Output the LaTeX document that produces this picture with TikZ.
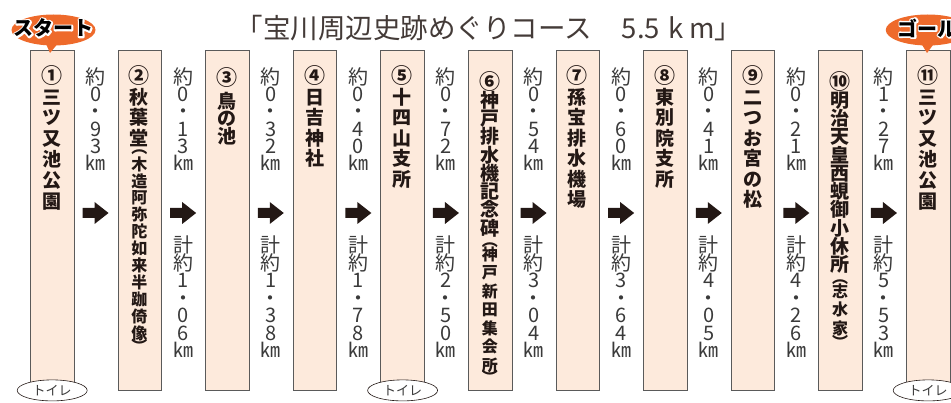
\documentclass[tikz,border=0pt]{standalone}
\usepackage{fontspec}
\newfontfamily\jp{Noto Sans CJK JP}
\usetikzlibrary{shapes.geometric,calc}
\definecolor{boxfill}{HTML}{FDEADC}
\definecolor{boxline}{HTML}{5A5A5A}
\definecolor{ink}{HTML}{231815}
\definecolor{orng}{HTML}{EE6A2B}
\definecolor{disttxt}{HTML}{3A3A3A}
\newcommand\vcol[6]{\foreach \c [count=\k from 0] in {#6} \node[#4] (#5\k) at (#1,#2+\k*#3) {\c};}
\newcommand\outlinetext[1]{\special{pdf:literal direct 1 Tr 3.2 w 1 J 1 j 1 1 1 RG}#1\special{pdf:literal direct 0 Tr 0 G}}
\begin{document}
\begin{tikzpicture}[x=1pt,y=-1pt,
 stopbox/.style={draw=boxline, line width=0.9pt, fill=boxfill, minimum width=43.5pt, minimum height=340pt, inner sep=0, anchor=north west},
 ch/.style={inner sep=0, text height=15.2pt, text depth=0.8pt, font=\jp\bfseries\fontsize{19}{19}\selectfont, text=ink},
 cnum/.style={inner sep=0, text height=14.5pt, text depth=-0.5pt, font=\jp\bfseries\fontsize{21}{21}\selectfont, text=ink},
 sm/.style={inner sep=0, text height=13.1pt, text depth=0.9pt, font=\jp\bfseries\fontsize{16}{16}\selectfont, text=ink},
 smp/.style={inner sep=0, font=\jp\bfseries\fontsize{16}{16}\selectfont, text=ink},
 dist/.style={inner sep=0, text height=15.2pt, text depth=0pt, font=\jp\fontsize{20}{20}\selectfont, text=disttxt},
 toilet/.style={ellipse, draw=ink, line width=0.6pt, fill=white, minimum width=70pt, minimum height=21pt, inner sep=0, text=disttxt, font=\jp\fontsize{13}{13}\selectfont},
 badge/.style={ellipse, fill=orng, minimum width=84pt, minimum height=31pt, inner sep=0},
 badgetxt/.style={inner sep=0, font=\jp\bfseries\fontsize{20}{20}\selectfont}]
\useasboundingbox (0,0) rectangle (951,403);
\clip (0,0) rectangle (951,403);
% title
\node[inner sep=0, font=\jp\fontsize{27.5}{27.5}\selectfont, text=ink!85] (title) at (489,28) {「宝川周辺史跡めぐりコース\hspace{30pt}5.5\hspace{8pt}k\hspace{6pt}m」};
% boxes
\foreach \i in {1,...,11} {
  \pgfmathsetmacro\L{30+87.6*(\i-1)}
  \node[stopbox] (box\i) at (\L,50) {};
}
% badges
\node[badge] (start) at (53.5,30) {};
\fill[orng] (start.south) ++(-8,-3) -- (50,53) -- ($(start.south)+(5,-3)$) -- cycle;
\node[badgetxt, text=white] (startw) at ($(start)+(0,-2)$) {\outlinetext{スタート}};
\node[badgetxt, text=black] (startt) at ($(start)+(0,-2)$) {スタート};
\node[badge] (goal) at (927.75,30) {};
\fill[orng] (goal.south) ++(-7,-3) -- (927,53) -- ($(goal.south)+(7,-3)$) -- cycle;
\node[badgetxt, text=white] (goalw) at ($(goal)+(0,-2)$) {\outlinetext{ゴール}};
\node[badgetxt, text=black] (goalt) at ($(goal)+(0,-2)$) {ゴール};
% box texts
\node[cnum] (n1) at (51.75,76) {①}; \vcol{51.75}{97}{20.8}{ch}{a}{三,ツ,又,池,公,園}
\node[cnum] (n2) at (139.35,76) {②}; \vcol{139.35}{97}{20.5}{ch}{b}{秋,葉,堂}
\node[smp] (p2a) at (139.35,152) {︵}; \vcol{139.35}{164}{16.95}{sm}{bs}{木,造,阿,弥,陀,如,来,半,跏,倚,像}
\node[smp] (p2b) at (139.35,346) {︶};
\node[cnum] (n3) at (226.95,78) {③}; \vcol{226.95}{101}{17.5}{ch}{c}{鳥,の,池}
\node[cnum] (n4) at (314.55,76) {④}; \vcol{314.55}{97}{20.5}{ch}{d}{日,吉,神,社}
\node[cnum] (n5) at (402.15,76) {⑤}; \vcol{402.15}{97}{20.5}{ch}{e}{十,四,山,支,所}
\node[cnum] (n6) at (489.75,82) {⑥}; \vcol{489.75}{100}{18.3}{ch}{f}{神,戸,排,水,機,記,念,碑}
\node[smp] (p6a) at (489.75,245) {︵}; \vcol{489.75}{254}{18.5}{sm}{fs}{神,戸,新,田,集,会,所}
\node[smp] (p6b) at (489.75,377) {︶};
\node[cnum] (n7) at (577.35,76) {⑦}; \vcol{577.35}{97}{20.5}{ch}{g}{孫,宝,排,水,機,場}
\node[cnum] (n8) at (664.95,76) {⑧}; \vcol{664.95}{97}{20.5}{ch}{h}{東,別,院,支,所}
\node[cnum] (n9) at (752.55,76) {⑨}; \vcol{752.55}{97}{20.5}{ch}{i}{二,つ,お,宮,の,松}
\node[cnum] (n10) at (840.15,82) {⑩}; \vcol{840.15}{100}{18.3}{ch}{j}{明,治,天,皇,西,蜆,御,小,休,所}
\node[smp] (p10a) at (840.15,282) {︵}; \vcol{840.15}{291}{18.5}{sm}{js}{志,水,家}
\node[smp] (p10b) at (840.15,342) {︶};
\node[cnum] (n11) at (927.75,76) {⑪}; \vcol{927.75}{97}{20.8}{ch}{k}{三,ツ,又,池,公,園}
% distances
\foreach \i in {1,...,10} {
  \pgfmathsetmacro\cx{95.55+87.6*(\i-1)}
  \coordinate (arr\i) at (\cx,213);
  \fill[ink, shift={(arr\i)}] (-13,-5) -- (-1,-5) -- (-1,-11) -- (13,0) -- (-1,11) -- (-1,5) -- (-13,5) -- cycle;
}
\foreach \i/\d/\e in {1/9/3, 2/1/3, 3/3/2, 4/4/0, 5/7/2, 6/5/4, 7/6/0, 8/4/1, 9/2/1} {
  \pgfmathsetmacro\cx{95.55+87.6*(\i-1)}
  \vcol{\cx}{77}{17.2}{dist}{u\i x}{約,0,・,\d,\e,㎞}
}
\foreach \i/\t/\u/\v in {2/1/0/6, 3/1/3/8, 4/1/7/8, 5/2/5/0, 6/3/0/4, 7/3/6/4, 8/4/0/5, 9/4/2/6} {
  \pgfmathsetmacro\cx{95.55+87.6*(\i-1)}
  \vcol{\cx}{245}{17.5}{dist}{t\i x}{計,約,\t,・,\u,\v,㎞}
}
\vcol{883.95}{77}{17.2}{dist}{u10x}{約,1,・,2,7,㎞}
\vcol{883.95}{245}{17.5}{dist}{t10x}{計,約,5,・,5,3,㎞}
% toilets
\node[toilet] (wc1) at ($(box1.south)+(0,-0.5)$) {トイレ};
\node[toilet] (wc5) at ($(box5.south)+(0,-0.5)$) {トイレ};
\node[toilet] (wc11) at ($(box11.south)+(0,-0.5)$) {トイレ};
\end{tikzpicture}
\end{document}
